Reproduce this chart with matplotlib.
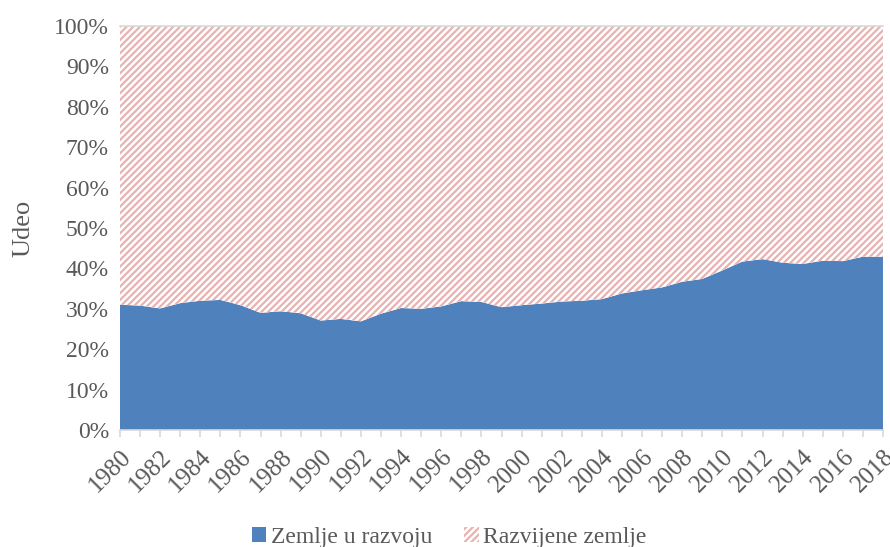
import matplotlib
matplotlib.use("Agg")
import matplotlib.pyplot as plt
from matplotlib.patches import Patch
from matplotlib.ticker import PercentFormatter

years = list(range(1980, 2019))
# share of developing countries (%)
zemlje_u_razvoju = [31.0, 30.8, 30.1, 31.4, 32.0, 32.2, 30.9, 29.0, 29.4, 28.9,
                    27.1, 27.5, 26.9, 28.8, 30.2, 30.0, 30.6, 31.9, 31.7, 30.4,
                    30.9, 31.3, 31.8, 32.0, 32.4, 33.8, 34.6, 35.3, 36.7, 37.4,
                    39.5, 41.7, 42.3, 41.4, 41.1, 41.9, 41.8, 42.9, 42.9]
razvijene_zemlje = [100 - v for v in zemlje_u_razvoju]

blue = "#4F81BD"
hatch_col = "#E8B2B1"
gray = "#595959"

plt.rcParams["font.family"] = ["Liberation Serif", "DejaVu Serif"]
plt.rcParams["hatch.linewidth"] = 1.6

fig = plt.figure(figsize=(8.9, 5.47), dpi=100)
ax = fig.add_axes([120 / 890, 1 - 430 / 547, (883 - 120) / 890, (430 - 26) / 547])

polys = ax.stackplot(years, zemlje_u_razvoju, razvijene_zemlje,
                     colors=[blue, "white"], linewidth=0)
polys[1].set_hatch("/////")
polys[1].set_edgecolor(hatch_col)
polys[1].set_linewidth(0)

ax.set_xlim(1980, 2018)
ax.set_ylim(0, 100)
ax.set_yticks(range(0, 101, 10))
ax.yaxis.set_major_formatter(PercentFormatter(decimals=0))
ax.set_xticks(years[::2])
ax.set_xticks(years, minor=True)

for s in ["left", "right"]:
    ax.spines[s].set_visible(False)
ax.spines["top"].set_color("#D9D9D9")
ax.spines["bottom"].set_color("#D9D9D9")
ax.spines["top"].set_linewidth(1.2)
ax.spines["bottom"].set_linewidth(1.2)

ax.tick_params(axis="y", length=0, labelsize=17, labelcolor=gray, pad=8)
ax.tick_params(axis="x", which="both", length=5, color="#D9D9D9", width=1.2,
               labelsize=18, labelcolor=gray, pad=6)
plt.setp(ax.get_xticklabels(), rotation=45, ha="right", rotation_mode="anchor")

ax.set_ylabel("Udeo", fontsize=19, color=gray, labelpad=14)

handles = [Patch(facecolor=blue, edgecolor="none", label="Zemlje u razvoju"),
           Patch(facecolor="white", edgecolor=hatch_col, hatch="/////", linewidth=0,
                 label="Razvijene zemlje")]
leg = fig.legend(handles=handles, loc="center", bbox_to_anchor=(0.505, 0.018),
                 ncol=2, frameon=False, fontsize=17, handlelength=0.6,
                 handleheight=0.6, handletextpad=0.2, columnspacing=1.35)
for t in leg.get_texts():
    t.set_color(gray)

fig.savefig("out.png", dpi=100)
